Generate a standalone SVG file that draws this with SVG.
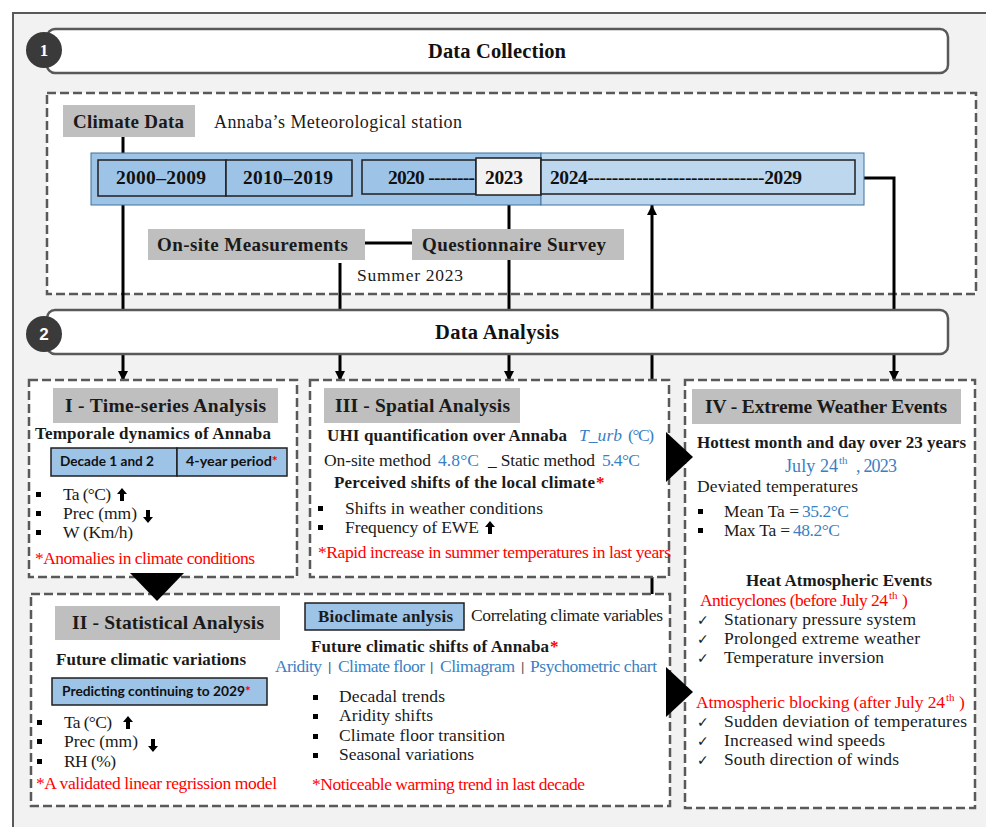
<svg xmlns="http://www.w3.org/2000/svg" width="986" height="827" viewBox="0 0 986 827">
<defs>
<style>
.t{font-family:'Liberation Serif',serif;font-size:17.5px;fill:#1a1a1a}
.b{font-family:'Liberation Serif',serif;font-size:17px;font-weight:bold;fill:#1a1a1a}
.h{font-family:'Liberation Serif',serif;font-size:20.5px;font-weight:bold;fill:#111}
.st{font-family:'Liberation Serif',serif;font-size:19.5px;font-weight:bold;fill:#1a1a1a}
.lb{font-family:'Liberation Serif',serif;font-size:19px;font-weight:bold;fill:#1a1a1a}
.yr{font-family:'Liberation Serif',serif;font-size:19.5px;font-weight:bold;fill:#111}
.sans{font-family:Lato,'Liberation Sans',sans-serif;font-size:14px;font-weight:bold;fill:#111}
.red{fill:#ff0000}
.blue{fill:#3a7fc4}
.sup{font-size:11px}
.chk{font-family:'DejaVu Sans',sans-serif;font-size:14px;fill:#1a1a1a}
.sep{font-family:'Liberation Sans',sans-serif;font-size:13px;fill:#555}
.dash{fill:#fff;stroke:#595959;stroke-width:2.5;stroke-dasharray:9 4}
.gray{fill:#bfbfbf}
.hdr{fill:#fff;stroke:#595959;stroke-width:2.5}
.bx{fill:#9dc3e6;stroke:#1f1f1f;stroke-width:1.5}
.ln{fill:none;stroke:#000;stroke-width:3}
.num{font-family:'Liberation Sans',sans-serif;font-size:17px;font-weight:bold;fill:#fff}
</style>
<marker id="ah" markerUnits="userSpaceOnUse" markerWidth="10" markerHeight="10" refX="10" refY="5" orient="auto" viewBox="0 0 10 10">
<path d="M0,0 L10,5 L0,10 z" fill="#000"/>
</marker>
<marker id="ahs" markerUnits="userSpaceOnUse" markerWidth="8" markerHeight="8" refX="10" refY="5" orient="auto" viewBox="0 0 10 10">
<path d="M0,0 L10,5 L0,10 z" fill="#000"/>
</marker>
<path id="up" d="M5 0 L10 6 L7 6 L7 13 L3 13 L3 6 L0 6 Z" fill="#000"/>
<path id="dn" d="M5 13 L10 7 L7 7 L7 0 L3 0 L3 7 L0 7 Z" fill="#000"/>
</defs>

<rect x="0" y="0" width="986" height="827" fill="#fff"/>
<rect x="13" y="13" width="990" height="830" fill="#f2f2f2" stroke="#595959" stroke-width="2"/>

<!-- Stage 1 -->
<g id="header1">
<rect class="hdr" x="47" y="29" width="901" height="44" rx="8"/>
<circle cx="44" cy="50" r="18" fill="#3a3a3a"/>
<text class="num" x="44" y="56" text-anchor="middle" style="font-family:'Liberation Serif',serif">1</text>
<text class="h" x="428" y="58" textLength="138">Data Collection</text>
</g>

<g id="collection-box">
<rect class="dash" x="47" y="93" width="929" height="201"/>
</g>

<!-- connectors (behind nodes) -->
<g id="connectors">
<line class="ln" x1="123" y1="137" x2="123" y2="154"/>
<line class="ln" x1="123" y1="205" x2="123" y2="311"/>
<line class="ln" x1="123" y1="354" x2="123" y2="381" marker-end="url(#ah)"/>
<line class="ln" x1="340" y1="263" x2="340" y2="311"/>
<line class="ln" x1="340" y1="354" x2="340" y2="381" marker-end="url(#ah)"/>
<line class="ln" x1="509" y1="195" x2="509" y2="311"/>
<line class="ln" x1="509" y1="354" x2="509" y2="381" marker-end="url(#ah)"/>
<line class="ln" x1="652" y1="311" x2="652" y2="205" marker-end="url(#ah)"/>
<line class="ln" x1="652" y1="354" x2="652" y2="595"/>
<polyline class="ln" points="864,178 894,178 894,311"/>
<line class="ln" x1="894" y1="354" x2="894" y2="381" marker-end="url(#ah)"/>
<line class="ln" x1="365" y1="243" x2="412" y2="243"/>
<polyline fill="none" stroke="#000" stroke-width="2" points="267,691 285,691 285,681"/>
<polyline fill="none" stroke="#000" stroke-width="2" points="285,654 285,617 305,617" marker-end="url(#ahs)"/>
</g>

<g id="climate-data">
<rect class="gray" x="63" y="105" width="132" height="32"/>
<text class="lb" x="73" y="128" textLength="111">Climate Data</text>
<text class="t" x="214" y="128" textLength="248" style="font-size:18px">Annaba’s Meteorological station</text>
</g>

<g id="timeline">
<rect x="91" y="153" width="450" height="52" fill="#9dc3e6" stroke="#41719c" stroke-width="1"/>
<rect x="541" y="153" width="323" height="52" fill="#bdd7ee" stroke="#41719c" stroke-width="1"/>
<rect class="bx" x="98" y="160" width="128" height="36"/>
<rect class="bx" x="226" y="160" width="126" height="36"/>
<rect class="bx" x="362" y="160" width="114" height="34"/>
<rect x="476" y="158" width="65" height="37" fill="#f2f2f2" stroke="#1f1f1f" stroke-width="1.5"/>
<rect x="541" y="160" width="314" height="34" fill="#bdd7ee" stroke="#1f1f1f" stroke-width="1.5"/>
<text class="yr" x="116" y="184" textLength="90">2000–2009</text>
<text class="yr" x="243" y="184" textLength="90">2010–2019</text>
<text class="yr" x="388" y="184" textLength="87">2020 --------</text>
<text class="yr" x="485" y="184" textLength="38">2023</text>
<text class="yr" x="550" y="184" textLength="252">2024-----------------------------2029</text>
</g>

<g id="onsite">
<rect class="gray" x="148" y="229" width="217" height="31"/>
<text class="lb" x="157" y="251" textLength="191">On-site Measurements</text>
</g>
<g id="questionnaire">
<rect class="gray" x="412" y="229" width="212" height="31"/>
<text class="lb" x="422" y="251" textLength="184">Questionnaire Survey</text>
</g>
<text class="t" x="357" y="281" textLength="106">Summer 2023</text>

<!-- Stage 2 -->
<g id="header2">
<rect class="hdr" x="47" y="310" width="901" height="44" rx="8"/>
<circle cx="44" cy="334" r="18" fill="#3a3a3a"/>
<text class="num" x="44" y="340" text-anchor="middle">2</text>
<text class="h" x="435" y="339" textLength="124">Data Analysis</text>
</g>

<!-- Section I -->
<g id="time-series">
<rect class="dash" x="29" y="380" width="268" height="197"/>
<rect class="gray" x="53" y="388" width="225" height="35"/>
<text class="st" x="65" y="412" textLength="201">I - Time-series  Analysis</text>
<text class="b" x="35" y="439" textLength="236">Temporale dynamics of Annaba</text>
<rect class="bx" x="51" y="448" width="126" height="28"/>
<rect class="bx" x="177" y="448" width="110" height="28"/>
<text class="sans" x="60" y="466" textLength="94" lengthAdjust="spacingAndGlyphs">Decade 1 and 2</text>
<text class="sans" x="186" y="466" textLength="92" lengthAdjust="spacingAndGlyphs">4-year period<tspan class="red">*</tspan></text>
<rect x="36" y="492" width="5" height="5" fill="#000"/>
<rect x="36" y="511" width="5" height="5" fill="#000"/>
<rect x="36" y="530" width="5" height="5" fill="#000"/>
<text class="t" x="63" y="500" textLength="48">Ta (°C)</text>
<text class="t" x="63" y="519" textLength="74">Prec  (mm)</text>
<text class="t" x="63" y="538" textLength="70">W (Km/h)</text>
<use href="#up" x="117" y="488"/>
<use href="#dn" x="143" y="510"/>
<text class="t red" x="35" y="564" textLength="220">*Anomalies in climate conditions</text>
</g>

<!-- Section III -->
<g id="spatial">
<rect class="dash" x="310" y="380" width="359" height="197"/>
<rect class="gray" x="324" y="388" width="196" height="35"/>
<text class="st" x="335" y="412" textLength="175">III - Spatial Analysis</text>
<text class="b" x="327" y="441" textLength="240">UHI quantification over Annaba</text>
<text class="t blue" x="579" y="441" textLength="43" font-style="italic">T_urb</text>
<text class="t blue" x="628" y="441" textLength="26">(°C)</text>
<text class="t" x="324" y="466" textLength="107">On-site  method</text>
<text class="t blue" x="438" y="466" textLength="41">4.8°C</text>
<text class="t" x="488" y="466" textLength="107">_ Static method</text>
<text class="t blue" x="602" y="466" textLength="38">5.4°C</text>
<text class="b" x="334" y="488" textLength="261">Perceived shifts of the local climate</text>
<text class="b red" x="596" y="488">*</text>
<rect x="318" y="506" width="5" height="5" fill="#000"/>
<rect x="318" y="525" width="5" height="5" fill="#000"/>
<text class="t" x="345" y="514" textLength="198">Shifts in weather  conditions</text>
<text class="t" x="345" y="533" textLength="134">Frequency  of EWE</text>
<use href="#up" x="485" y="521"/>
<text class="t red" x="318" y="558" textLength="353">*Rapid  increase in summer temperatures  in last years</text>
</g>

<!-- Section IV -->
<g id="extreme">
<rect class="dash" x="685" y="380" width="290" height="428"/>
<rect class="gray" x="692" y="389" width="269" height="35"/>
<text class="st" x="705" y="413" textLength="242">IV - Extreme  Weather  Events</text>
<text class="b" x="697" y="448" textLength="269">Hottest month and day over 23 years</text>
<text class="t blue" x="785" y="472" textLength="53" style="font-size:18px">July 24</text>
<text class="t blue sup" x="839" y="464">th</text>
<text class="t blue" x="856" y="472" textLength="41" style="font-size:18px">, 2023</text>
<text class="t" x="697" y="492" textLength="161">Deviated  temperatures</text>
<rect x="698" y="509" width="5" height="5" fill="#000"/>
<rect x="698" y="528" width="5" height="5" fill="#000"/>
<text class="t" x="724" y="517" textLength="75">Mean  Ta =</text>
<text class="t blue" x="802" y="517" textLength="47">35.2°C</text>
<text class="t" x="724" y="536" textLength="66">Max  Ta =</text>
<text class="t blue" x="793" y="536" textLength="47">48.2°C</text>
<text class="b" x="746" y="586" textLength="186">Heat Atmospheric Events</text>
<text class="t red" x="700" y="606" textLength="188">Anticyclones  (before  July 24</text>
<text class="t red sup" x="889" y="599">th</text>
<text class="t red" x="902" y="606">)</text>
<text class="chk" x="697" y="625">✓</text>
<text class="chk" x="697" y="644">✓</text>
<text class="chk" x="697" y="663">✓</text>
<text class="t" x="724" y="625" textLength="192">Stationary  pressure  system</text>
<text class="t" x="724" y="644" textLength="196">Prolonged  extreme  weather</text>
<text class="t" x="724" y="663" textLength="160">Temperature  inversion</text>
<text class="t red" x="696" y="708" textLength="249">Atmospheric  blocking  (after July 24</text>
<text class="t red sup" x="946" y="701">th</text>
<text class="t red" x="959" y="708">)</text>
<text class="chk" x="697" y="727">✓</text>
<text class="chk" x="697" y="746">✓</text>
<text class="chk" x="697" y="765">✓</text>
<text class="t" x="724" y="727" textLength="243">Sudden  deviation  of  temperatures</text>
<text class="t" x="724" y="746" textLength="161">Increased  wind  speeds</text>
<text class="t" x="724" y="765" textLength="175">South direction  of winds</text>
</g>

<!-- Section II -->
<g id="statistical">
<rect class="dash" x="31" y="594" width="639" height="212"/>
<rect class="gray" x="55" y="606" width="225" height="34"/>
<text class="st" x="72" y="629" textLength="192">II - Statistical Analysis</text>
<text class="b" x="56" y="665" textLength="190">Future climatic variations</text>
<rect class="bx" x="52" y="678" width="215" height="27"/>
<text class="sans" x="62" y="696" textLength="189" lengthAdjust="spacingAndGlyphs" style="font-size:13.5px">Predicting continuing to 2029<tspan class="red">*</tspan></text>
<rect x="37" y="720" width="5" height="5" fill="#000"/>
<rect x="37" y="739" width="5" height="5" fill="#000"/>
<rect x="37" y="759" width="5" height="5" fill="#000"/>
<text class="t" x="64" y="728" textLength="48">Ta (°C)</text>
<text class="t" x="64" y="747" textLength="74">Prec  (mm)</text>
<text class="t" x="64" y="767" textLength="52">RH (%)</text>
<use href="#up" x="123" y="716"/>
<use href="#dn" x="148" y="739"/>
<text class="t red" x="36" y="789" textLength="241">*A validated  linear  regrission model</text>
</g>

<g id="bioclimate">
<rect class="bx" x="305" y="603" width="159" height="27"/>
<text class="b" x="318" y="622" textLength="135">Bioclimate anlysis</text>
<text class="t" x="471" y="621" textLength="192">Correlating climate variables</text>
<text class="b" x="311" y="652" textLength="238">Future climatic shifts of Annaba</text>
<text class="b red" x="550" y="652">*</text>
<text class="t blue" x="275" y="672" textLength="47">Aridity</text>
<text class="sep" x="328" y="671">|</text>
<text class="t blue" x="338" y="672" textLength="87">Climate floor</text>
<text class="sep" x="430" y="671">|</text>
<text class="t blue" x="440" y="672" textLength="75">Climagram</text>
<text class="sep" x="521" y="671">|</text>
<text class="t blue" x="530" y="672" textLength="127">Psychometric chart</text>
<rect x="313" y="695" width="5" height="5" fill="#000"/>
<rect x="313" y="714" width="5" height="5" fill="#000"/>
<rect x="313" y="734" width="5" height="5" fill="#000"/>
<rect x="313" y="753" width="5" height="5" fill="#000"/>
<text class="t" x="339" y="702" textLength="106">Decadal  trends</text>
<text class="t" x="339" y="721" textLength="94">Aridity shifts</text>
<text class="t" x="339" y="741" textLength="166">Climate floor  transition</text>
<text class="t" x="339" y="760" textLength="135">Seasonal  variations</text>
<text class="t red" x="312" y="790" textLength="273">*Noticeable warming trend  in last decade</text>
</g>

<g id="flow-triangles">
<polygon points="130,573 184,573 157,601" fill="#000"/>
<polygon points="666,432 666,482 693,457" fill="#000"/>
<polygon points="666,667 666,717 693,692" fill="#000"/>
</g>
</svg>
